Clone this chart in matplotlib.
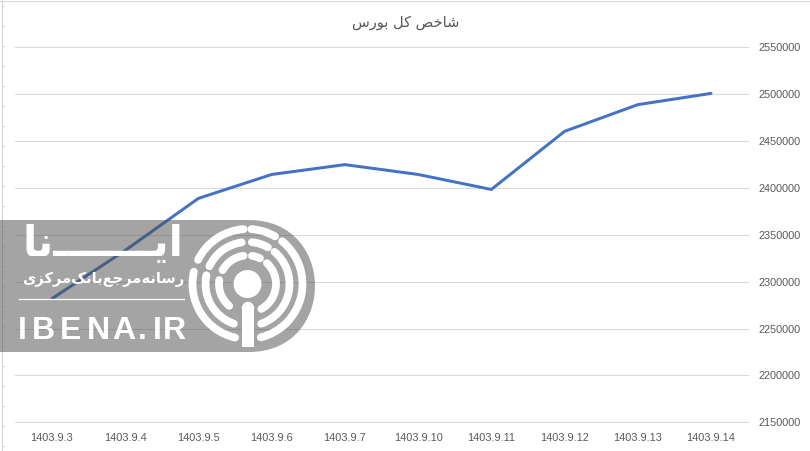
import numpy as np
import matplotlib
matplotlib.use("Agg")
import matplotlib.pyplot as plt
from matplotlib.patches import Arc, Circle, Rectangle, PathPatch
from matplotlib.path import Path

# values
dates = ["1403.9.3", "1403.9.4", "1403.9.5", "1403.9.6", "1403.9.7",
         "1403.9.10", "1403.9.11", "1403.9.12", "1403.9.13", "1403.9.14"]
index_values = [2282000, 2333500, 2389000, 2414500, 2425000,
                2414500, 2398500, 2460500, 2489000, 2501000]
y_ticks = [2150000, 2200000, 2250000, 2300000, 2350000,
           2400000, 2450000, 2500000, 2550000]

# presentation forms in reading order, matplotlib does not shape arabic itself
title_fa = "\uFEB7\uFE8E\uFEA7\uFEBA \uFB90\uFEDE \uFE91\uFEEE\uFEAD\uFEB1"
logo_fa = "\uFE8D\uFBFE\u0640\u0640\u0640\u0640\u0640\u0640\u0640\uFEE7\uFE8E"
logo_sub_fa = ("\uFEAD\uFEB3\uFE8E\uFEE7\uFEEA\uFEE3\uFEAE\uFE9F\uFECA"
               "\uFE91\uFE8E\uFEE7\uFB8F\uFEE3\uFEAE\uFB90\uFEB0\uFBFC")
logo_latin = ["I", "B", "E", "N", "A", ".", "I", "R"]
logo_latin_x = [22, 43, 71, 98, 124, 142, 157, 174]

W, H = 810, 451
GREY = "#595959"
GRID = "#D9D9D9"

fig = plt.figure(figsize=(W / 100, H / 100), dpi=100, facecolor="white")
ax = fig.add_axes([15.4 / W, 1 - 422.3 / H, 732.2 / W, 374.8 / H])
x = np.arange(len(dates))
ax.plot(x, index_values, color="#4472C4", lw=2.15, solid_capstyle="round", solid_joinstyle="round", zorder=3)
ax.set_xlim(-0.5, len(dates) - 0.5)
ax.set_ylim(2150000, 2550000)
ax.set_xticks(x)
ax.set_xticklabels(dates, fontfamily="Liberation Sans", fontsize=7.9, color=GREY)
ax.yaxis.tick_right()
ax.set_yticks(y_ticks)
ax.set_yticklabels([str(v) for v in y_ticks], fontfamily="Liberation Sans", fontsize=7.8, color=GREY)
ax.tick_params(axis="both", length=0)
ax.tick_params(axis="x", pad=8)
ax.tick_params(axis="y", pad=8)
ax.grid(axis="y", color=GRID, lw=0.75)
for g in ax.get_ygridlines():
    g.set_clip_on(False)
ax.set_axisbelow(True)
for s in ax.spines.values():
    s.set_visible(False)

fig.text(406 / W, 1 - 22 / H, title_fa[::-1], ha="center", va="center",
         fontfamily="DejaVu Sans", fontsize=10.5, color=GREY)

# overlay in pixel coordinates for the frame and the watermark
ov = fig.add_axes([0, 0, 1, 1], facecolor="none")
ov.set_xlim(0, W)
ov.set_ylim(0, H)
ov.axis("off")

# frame left over from the screenshot
ov.plot([1.5, 1.5], [0, H], color="#D0D0D0", lw=0.75)
ov.plot([0, W], [H - 0.5, H - 0.5], color="#D9D9D9", lw=0.75)
for py in range(6, 451, 20):
    ov.plot([1.5, 4], [H - py, H - py], color="#D0D0D0", lw=0.6)

# watermark band
top, bottom, cx = 220, 352, 249
r = (bottom - top) / 2
verts = [(0, H - top), (cx, H - top), (cx + r * 1.333, H - top), (cx + r * 1.333, H - bottom),
         (cx, H - bottom), (0, H - bottom), (0, H - top)]
codes = [Path.MOVETO, Path.LINETO, Path.CURVE4, Path.CURVE4, Path.CURVE4, Path.LINETO, Path.CLOSEPOLY]
ov.add_patch(PathPatch(Path(verts, codes), facecolor="#4b4b4b", edgecolor="none", alpha=0.5, zorder=5))

# rings of the logo
ccx, ccy = 247.5, H - 284
rings = {
    55: [(167, 257), (94, 154), (60, 86), (-76, 51)],
    42: [(168, 251), (98, 155), (61, 84), (-71, 50)],
    28.5: [(172, 230), (98, 151), (64, 81), (-61, 47)],
}
for rad, spans in rings.items():
    for a, b in spans:
        ov.add_patch(Arc((ccx, ccy), 2 * rad, 2 * rad, theta1=a, theta2=b, color="white",
                         lw=5.6, capstyle="round", zorder=6))
ov.add_patch(Circle((ccx, ccy), 14, color="white", lw=0, zorder=6))
ov.add_patch(Circle((248, H - 308), 6.2, color="white", lw=0, zorder=6))
ov.add_patch(Rectangle((241.8, H - 347), 12.4, 39, color="white", lw=0, zorder=6))

# logo texts
ov.text(103, H - 244, logo_fa[::-1], ha="center", va="center", fontfamily="DejaVu Sans",
        fontweight="bold", fontsize=30, color="white", zorder=6)
ov.text(103, H - 279, logo_sub_fa[::-1], ha="center", va="center", fontfamily="DejaVu Sans",
        fontweight="bold", fontsize=10.5, color="white", zorder=6)
ov.plot([19, 184], [H - 299, H - 299], color="white", lw=0.9, zorder=6)
for ch, px in zip(logo_latin, logo_latin_x):
    ov.text(px, H - 331, ch, ha="center", va="center", fontfamily="Liberation Sans",
            fontweight="bold", fontsize=23, color="white", zorder=6)

fig.savefig("out.png", dpi=100)
